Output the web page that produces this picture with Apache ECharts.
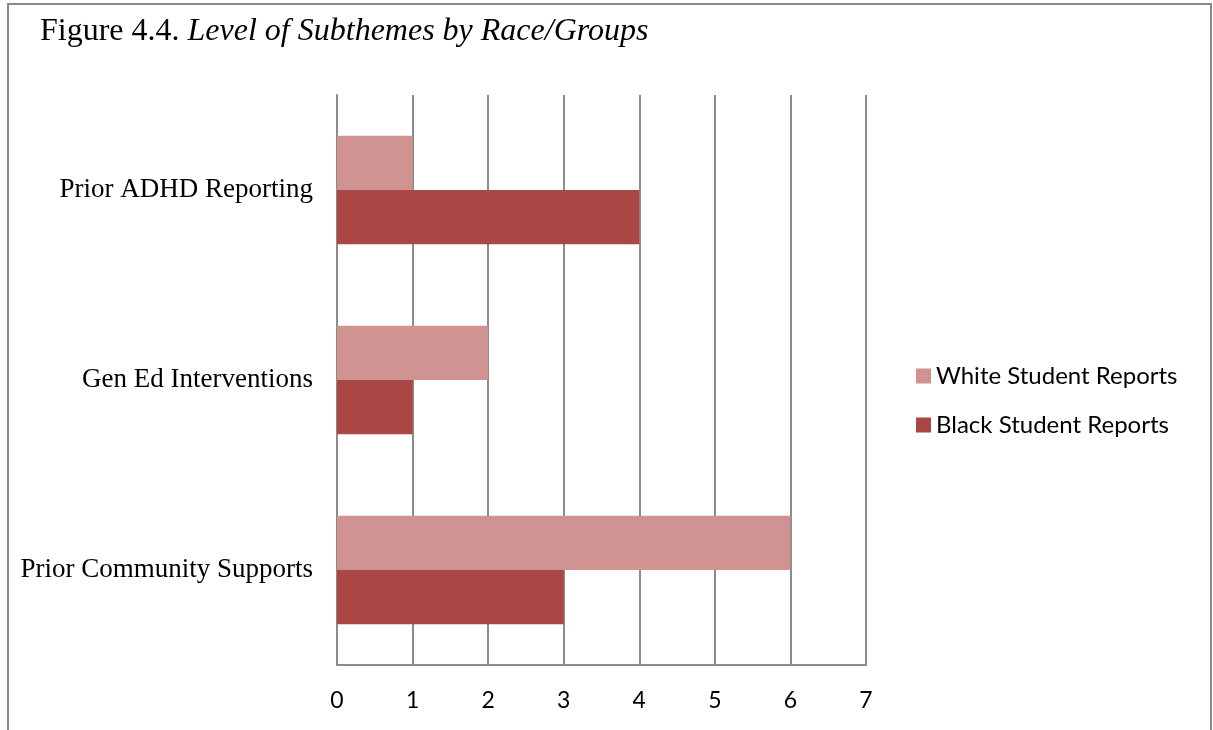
<!DOCTYPE html>
<html>
<head>
<meta charset="utf-8">
<script src="https://cdn.jsdelivr.net/npm/echarts@6/dist/echarts.min.js"></script>
<style>
  html, body { margin: 0; padding: 0; background: #fff; }
  #chart { width: 1213px; height: 730px; }
</style>
</head>
<body>
<div id="chart"></div>
<script>
// Subtheme categories, listed bottom to top along the vertical axis
const categories = ["Prior Community Supports", "Gen Ed Interventions", "Prior ADHD Reporting"];
const whiteReports = [6, 2, 1];
const blackReports = [3, 1, 4];
const xTicks = [0, 1, 2, 3, 4, 5, 6, 7];

const chart = echarts.init(document.getElementById('chart'));

chart.setOption({
  animation: false,
  backgroundColor: '#ffffff',
  title: {
    text: '{a|Figure 4.4. }{b|Level of Subthemes by Race/Groups}',
    left: 40,
    top: 16,
    padding: 0,
    textStyle: {
      fontWeight: 'normal',
      rich: {
        a: { fontFamily: 'Liberation Serif', fontSize: 32, fontWeight: 'normal', color: '#000' },
        b: { fontFamily: 'Liberation Serif', fontSize: 32, fontWeight: 'normal', fontStyle: 'italic', color: '#000' }
      }
    }
  },
  graphic: [{
    type: 'rect',
    shape: { x: 8, y: 4, width: 1203, height: 740 },
    style: { fill: 'none', stroke: '#8a8a8a', lineWidth: 2 },
    silent: true
  }],
  legend: {
    orient: 'vertical',
    left: 916,
    top: 364,
    padding: 0,
    itemWidth: 15,
    itemHeight: 15,
    itemGap: 25,
    icon: 'rect',
    data: ['White Student Reports', 'Black Student Reports'],
    textStyle: { fontFamily: 'Lato', fontSize: 24, color: '#000', padding: [0, 0, 0, 0] }
  },
  grid: { left: 337, right: 347, top: 95, bottom: 65, containLabel: false },
  xAxis: {
    type: 'value',
    min: xTicks[0],
    max: xTicks[xTicks.length - 1],
    interval: 1,
    axisLine: { show: true, lineStyle: { color: '#8c8c8c', width: 2 } },
    axisTick: { show: false },
    splitLine: { show: true, lineStyle: { color: '#8c8c8c', width: 2 } },
    axisLabel: { fontFamily: 'Lato', fontSize: 23, color: '#000', margin: 24 }
  },
  yAxis: {
    type: 'category',
    data: categories,
    axisLine: { show: true, lineStyle: { color: '#8c8c8c', width: 2 } },
    axisTick: { show: false },
    splitLine: { show: false },
    axisLabel: { fontFamily: 'Liberation Serif', fontSize: 27, color: '#000', margin: 24 }
  },
  series: [
    {
      name: 'White Student Reports',
      type: 'bar',
      data: whiteReports,
      barGap: '0%',
      barCategoryGap: '43%',
      itemStyle: { color: '#d19392' }
    },
    {
      name: 'Black Student Reports',
      type: 'bar',
      data: blackReports,
      barGap: '0%',
      barCategoryGap: '43%',
      itemStyle: { color: '#aa4644' }
    }
  ]
});
</script>
</body>
</html>
